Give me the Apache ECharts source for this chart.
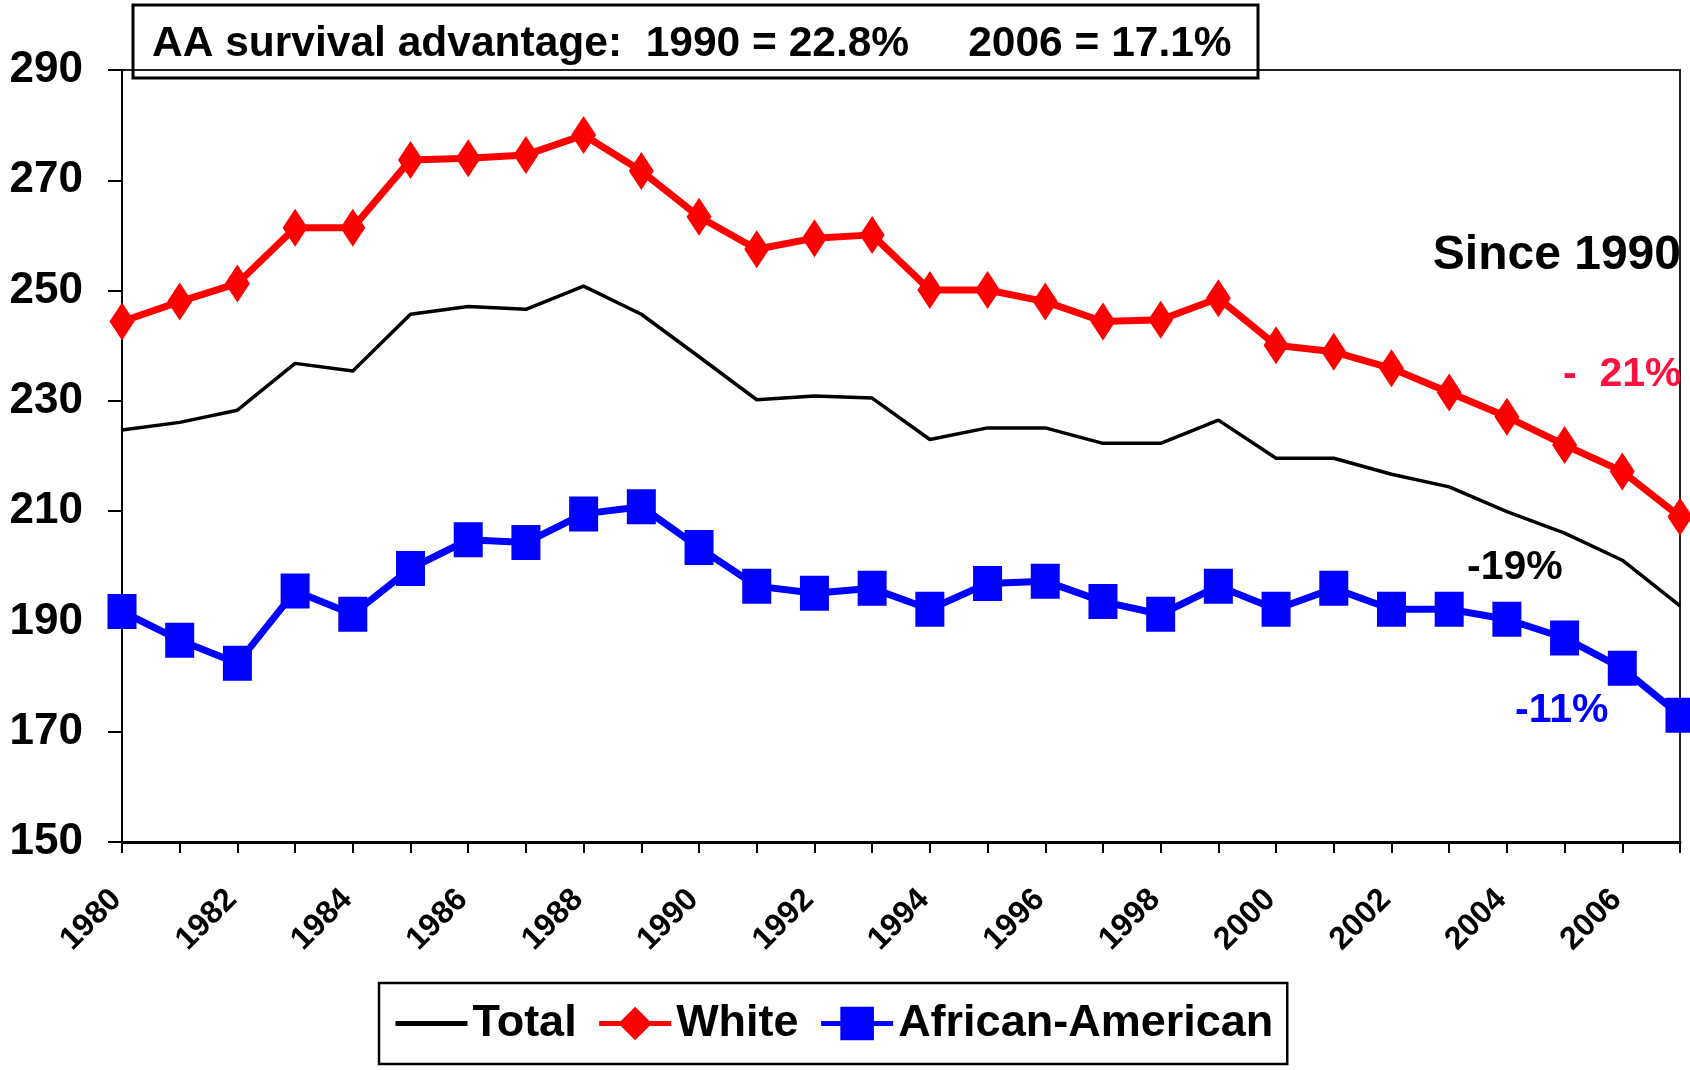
<!DOCTYPE html>
<html>
<head>
<meta charset="utf-8">
<script src="https://cdn.jsdelivr.net/npm/echarts@6/dist/echarts.min.js"></script>
<style>
html,body{margin:0;padding:0;background:#fff;}
#chart{width:1690px;height:1070px;}
</style>
</head>
<body>
<div id="chart"></div>
<script>
const years = ['1980','1981','1982','1983','1984','1985','1986','1987','1988','1989','1990','1991','1992','1993','1994','1995','1996','1997','1998','1999','2000','2001','2002','2003','2004','2005','2006','2007'];
const totalValues = [224.7, 226.1, 228.3, 236.8, 235.4, 245.7, 247.1, 246.6, 250.8, 245.7, 238.0, 230.2, 230.9, 230.5, 223.0, 225.1, 225.1, 222.3, 222.3, 226.5, 219.6, 219.6, 216.7, 214.4, 209.9, 206.0, 201.1, 192.8];
const whiteValues = [244.4, 248.0, 251.3, 261.4, 261.4, 273.7, 274.0, 274.6, 278.2, 271.7, 263.4, 257.5, 259.5, 260.1, 250.1, 250.1, 248.0, 244.4, 244.7, 248.6, 240.1, 238.9, 235.9, 231.5, 227.1, 222.0, 217.2, 209.0];
const aaValues = [191.8, 186.6, 182.4, 195.5, 191.3, 199.6, 204.8, 204.3, 209.5, 210.8, 203.4, 196.4, 195.1, 196.0, 192.2, 196.9, 197.3, 193.6, 191.3, 196.4, 192.2, 196.0, 192.2, 192.2, 190.4, 187.0, 181.5, 173.0];
const seriesNames = ['Total', 'White', 'African-American'];
const titleText = 'AA survival advantage:  1990 = 22.8%     2006 = 17.1%';
const yMin = 150, yMax = 290, yStep = 20;

const FONT = "'Liberation Sans', Arial, Helvetica, sans-serif";
const chart = echarts.init(document.getElementById('chart'));
chart.setOption({
  animation: false,
  backgroundColor: '#fff',
  textStyle: { fontFamily: FONT },
  title: {
    text: titleText,
    left: 152, top: 19, padding: 0,
    textStyle: { fontFamily: FONT, fontSize: 42.5, fontWeight: 'bold', color: '#000', lineHeight: 50 }
  },
  grid: {
    left: 122, right: 10, top: 70, bottom: 228,
    show: true, borderColor: '#222', borderWidth: 2, backgroundColor: 'transparent'
  },
  legend: {
    data: [
      { name: seriesNames[0], itemStyle: { opacity: 0 } },
      { name: seriesNames[1] },
      { name: seriesNames[2] }
    ],
    left: 379, top: 983,
    padding: [18, 14, 18, 14],
    borderColor: '#000', borderWidth: 2.5,
    itemWidth: 72, itemHeight: 42, itemGap: 20,
    lineStyle: { width: 5 },
    textStyle: { fontFamily: FONT, fontSize: 45, fontWeight: 'bold', color: '#000' }
  },
  xAxis: {
    type: 'category',
    data: years,
    boundaryGap: false,
    axisLine: { lineStyle: { color: '#000', width: 3 } },
    axisTick: { show: true, interval: 0, length: 11, lineStyle: { color: '#000', width: 2 } },
    axisLabel: {
      interval: 1, rotate: 45, margin: 47, padding: [0, 8, 0, 0],
      fontFamily: FONT, fontSize: 32, fontWeight: 'bold', color: '#000'
    },
    splitLine: { show: false }
  },
  yAxis: {
    type: 'value',
    min: yMin, max: yMax, interval: yStep,
    axisLine: { show: true, lineStyle: { color: '#000', width: 2 } },
    axisTick: { show: true, length: 14, lineStyle: { color: '#000', width: 2 } },
    axisLabel: { margin: 39, fontFamily: FONT, fontSize: 44, fontWeight: 'bold', color: '#000' },
    splitLine: { show: false }
  },
  graphic: [
    { type: 'rect', shape: { x: 133, y: 5, width: 1125, height: 73 },
      style: { fill: 'none', stroke: '#000', lineWidth: 3 }, z: 10 },
    { type: 'text', x: 1681, y: 256, z: 10,
      style: { text: 'Since 1990', align: 'right', verticalAlign: 'middle', fontFamily: FONT, fontSize: 48, fontWeight: 'bold', fill: '#000' } },
    { type: 'text', x: 1563, y: 375, z: 10,
      style: { text: '-  21%', align: 'left', verticalAlign: 'middle', fontFamily: FONT, fontSize: 41, fontWeight: 'bold', fill: '#ff1040' } },
    { type: 'text', x: 1467, y: 568, z: 10,
      style: { text: '-19%', align: 'left', verticalAlign: 'middle', fontFamily: FONT, fontSize: 41, fontWeight: 'bold', fill: '#000' } },
    { type: 'text', x: 1515, y: 711, z: 10,
      style: { text: '-11%', align: 'left', verticalAlign: 'middle', fontFamily: FONT, fontSize: 41, fontWeight: 'bold', fill: '#0000ff' } }
  ],
  series: [
    {
      name: seriesNames[0], type: 'line', data: totalValues,
      symbol: 'none', showSymbol: false,
      lineStyle: { color: '#000', width: 3.5 }, itemStyle: { color: '#000' },
      z: 2
    },
    {
      name: seriesNames[1], type: 'line', data: whiteValues,
      symbol: 'diamond', symbolSize: [25, 38], showAllSymbol: true,
      lineStyle: { color: '#ff0000', width: 7 }, itemStyle: { color: '#ff0000' },
      z: 3
    },
    {
      name: seriesNames[2], type: 'line', data: aaValues,
      symbol: 'rect', symbolSize: [29, 35], showAllSymbol: true,
      lineStyle: { color: '#0000ff', width: 7 }, itemStyle: { color: '#0000ff' },
      z: 4
    }
  ]
});
</script>
</body>
</html>
